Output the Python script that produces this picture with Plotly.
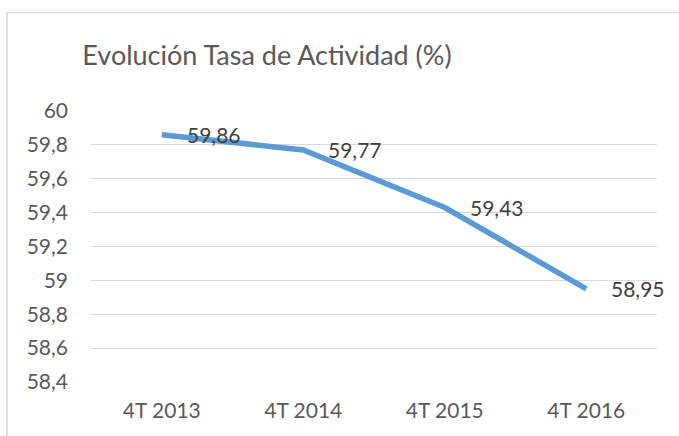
import plotly.graph_objects as go

categories = ["4T 2013", "4T 2014", "4T 2015", "4T 2016"]
values = [59.86, 59.77, 59.43, 58.95]
value_labels = ["59,86", "59,77", "59,43", "58,95"]
y_ticks = [58.4, 58.6, 58.8, 59.0, 59.2, 59.4, 59.6, 59.8, 60.0]
y_tick_labels = ["58,4", "58,6", "58,8", "59", "59,2", "59,4", "59,6", "59,8", "60"]
title_text = "Evolución Tasa de Actividad (%)"

W, H = 679, 436
ML, MR, MT, MB = 91, 22, 111, 54
PW, PH = W - ML - MR, H - MT - MB

def px_x(p):
    return (p - ML) / PW

def px_y(p):
    return (H - MB - p) / PH

FONT = "Lato"

fig = go.Figure()
fig.add_trace(go.Scatter(
    x=categories, y=values, mode="lines",
    line=dict(color="#5B9BD5", width=5.5),
    hoverinfo="skip", showlegend=False,
))

for c, v, t in zip(categories, values, value_labels):
    fig.add_annotation(x=c, y=v, text=t, showarrow=False,
                       xanchor="left", yanchor="middle", xshift=23, yshift=0,
                       font=dict(family=FONT, size=21, color="#404040"))

fig.add_shape(type="rect", xref="paper", yref="paper",
              x0=px_x(7), x1=px_x(720), y0=px_y(12.5), y1=px_y(470),
              line=dict(color="#D9D9D9", width=1.5), fillcolor="rgba(0,0,0,0)",
              layer="below")

fig.update_layout(
    width=W, height=H,
    margin=dict(l=ML, r=MR, t=MT, b=MB),
    paper_bgcolor="white", plot_bgcolor="white",
    title=dict(text=title_text, x=267 / W, xanchor="center", y=1 - 56 / H, yanchor="middle",
               xref="container", yref="container",
               font=dict(family=FONT, size=27, color="#595959")),
    xaxis=dict(showgrid=False, showline=False, zeroline=False, ticks="",
               range=[-0.5, len(categories) - 0.5],
               tickfont=dict(family=FONT, size=21, color="#595959"),
               ticklabelstandoff=14),
    yaxis=dict(range=[58.4, 60.0], tickvals=y_ticks, ticktext=y_tick_labels,
               showgrid=True, gridcolor="#D9D9D9", gridwidth=1.2, zeroline=False,
               showline=False, ticks="",
               tickfont=dict(family=FONT, size=21, color="#595959"),
               ticklabelstandoff=22),
)

fig.write_html("out.html", config={"displayModeBar": False},
               post_script="document.body.style.margin='0';")
